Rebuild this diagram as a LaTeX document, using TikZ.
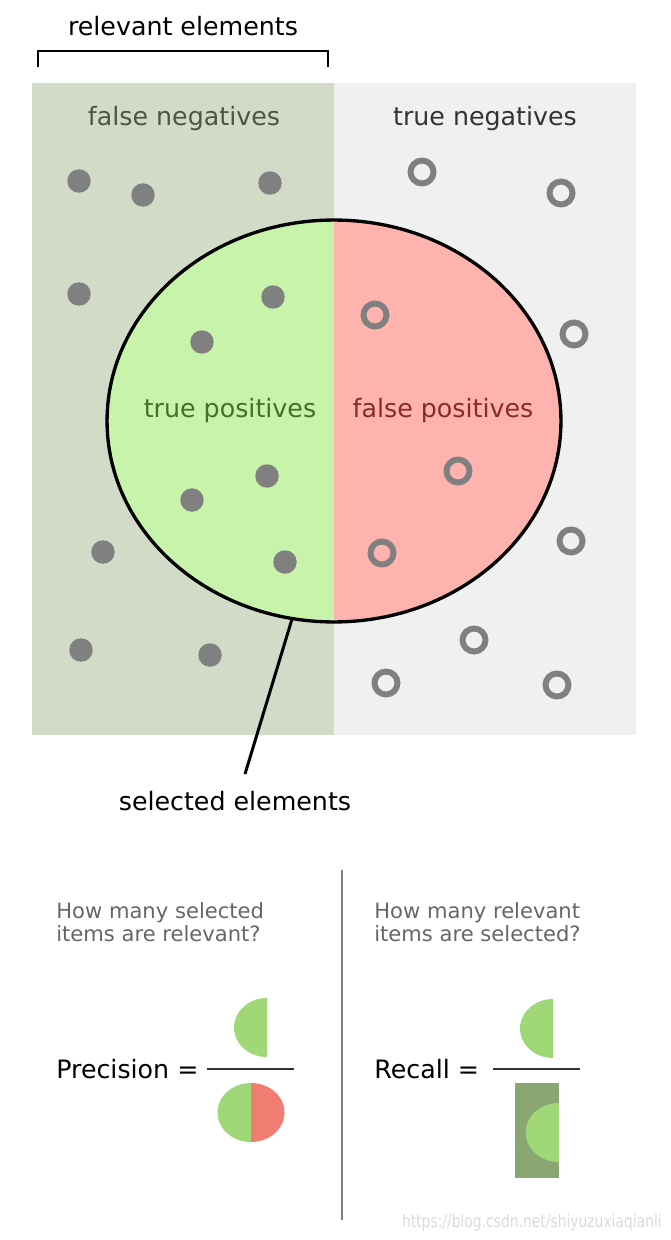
\documentclass[tikz,border=0pt]{standalone}
\usepackage{fontspec}
\setmainfont{DejaVu Sans}
\usetikzlibrary{shapes.geometric, positioning}
\definecolor{fnfill}{RGB}{209,219,200}
\definecolor{tnfill}{RGB}{240,240,240}
\definecolor{tpfill}{RGB}{200,243,170}
\definecolor{fpfill}{RGB}{255,179,174}
\definecolor{dotgray}{RGB}{128,128,128}
\definecolor{fntext}{RGB}{75,88,64}
\definecolor{tntext}{RGB}{51,51,51}
\definecolor{tptext}{RGB}{70,112,42}
\definecolor{fptext}{RGB}{139,42,42}
\definecolor{qgray}{RGB}{102,102,102}
\definecolor{bargray}{RGB}{51,51,51}
\definecolor{hitgreen}{RGB}{160,216,120}
\definecolor{missred}{RGB}{240,124,114}
\definecolor{relolive}{RGB}{138,166,114}
\definecolor{wmgray}{RGB}{218,218,218}

\begin{document}
\begin{tikzpicture}[x=0.02cm, y=0.02cm,
        every node/.style={font=\fontsize{14.4}{17}\selectfont},
        relv/.style={circle, fill=dotgray, inner sep=0pt, minimum size=0.47cm},
        irrel/.style={circle, draw=dotgray, line width=3.4pt, inner sep=0pt, minimum size=0.46cm},
        selset/.style={ellipse, draw, line width=1.9pt, inner sep=0pt, minimum width=9.08cm, minimum height=8.04cm},
        heading/.style={anchor=base, text=#1},
        question/.style={font=\fontsize{12}{13}\selectfont, text=qgray, align=left, anchor=north west, inner sep=0pt},
        formula/.style={anchor=base west, inner sep=0pt},
        bar/.style={draw=bargray, line width=1.2pt},
        pointer/.style={line width=1.7pt}
    ]
    \useasboundingbox (0,0) rectangle (670,-1240);
%
    % Regions
    \fill[fnfill] (32,-83) rectangle (334,-735);
    \fill[tnfill] (334,-83) rectangle (636,-735);
    \fill[tpfill] (334,-220) arc[start angle=90, end angle=270, x radius=227, y radius=201] -- cycle;
    \fill[fpfill] (334,-220) arc[start angle=90, end angle=-90, x radius=227, y radius=201] -- cycle;
    \node[selset] (sel) at (334,-421) {};
%
    % Labels
    \node[anchor=base] (rellabel) at (183,-36) {relevant elements};
    \draw[pointer] (38,-67) |- (328,-51) -- (328,-67);
    \node[heading=fntext] (fnlabel) at (184,-126) {false negatives};
    \node[heading=tntext] (tnlabel) at (485,-126) {true negatives};
    \node[heading=tptext] (tplabel) at (230,-417) {true positives};
    \node[heading=fptext] (fplabel) at (443,-417) {false positives};
    \node[anchor=base] (sellabel) at (235,-810) {selected elements};
    \coordinate (tip) at (245,-774);
    \draw[pointer] (sel.258) -- (tip);
%
    % Elements
    \foreach \px/\py [count=\i] in {79/181, 143/195, 270/183, 79/294, 273/297, 202/342,
        267/476, 192/500, 285/562, 103/552, 81/650, 210/655} {
        \node[relv] (rel\i) at (\px,-\py) {};
    }
    \foreach \px/\py [count=\i] in {422/172, 561/193, 375/315, 574/334, 458/471,
        571/541, 382/553, 474/640, 386/683, 557/685} {
        \node[irrel] (irr\i) at (\px,-\py) {};
    }
%
    % Precision and recall
    \draw[draw=dotgray, line width=1.1pt] (342,-870) -- (342,-1220);
    \node[question] (qprec) at (56,-902) {How many selected\\items are relevant?};
    \node[question] (qrec) at (374,-902) {How many relevant\\items are selected?};
    \node[formula] (prec) at (56,-1078) {Precision =};
    \node[formula] (rec) at (374,-1078) {Recall =};
    \draw[bar] (207,-1069) -- (294,-1069);
    \draw[bar] (493,-1069) -- (580,-1069);
    \fill[hitgreen] (267,-998) arc[start angle=90, end angle=270, x radius=33, y radius=29.5] -- cycle;
    \fill[hitgreen] (251,-1083) arc[start angle=90, end angle=270, x radius=33.5, y radius=29.5] -- cycle;
    \fill[missred] (251,-1083) arc[start angle=90, end angle=-90, x radius=33.5, y radius=29.5] -- cycle;
    \fill[hitgreen] (553,-999) arc[start angle=90, end angle=270, x radius=33, y radius=29.5] -- cycle;
    \fill[relolive] (515,-1083) rectangle (559,-1178);
    \fill[hitgreen] (559,-1103) arc[start angle=90, end angle=270, x radius=33.3, y radius=29.5] -- cycle;
%
    \node[anchor=base east, font=\fontsize{10}{12}\selectfont, text=wmgray, xscale=0.79, inner sep=0pt] (wmark) at (662,-1227) {https://blog.csdn.net/shiyuzuxiaqianli};
%
\end{tikzpicture}
\end{document}
